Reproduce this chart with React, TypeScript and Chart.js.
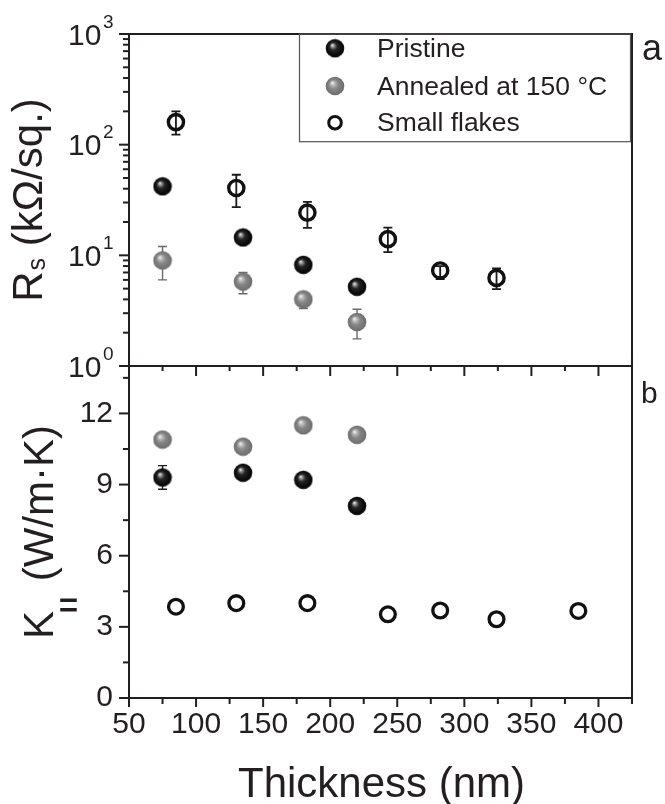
import React, { useEffect, useRef } from 'react';
import { Chart, registerables } from 'chart.js';

Chart.register(...registerables);

const FONT = '"Liberation Sans", Arial, Helvetica, sans-serif';
const INK = '#231f20';

// ---------- data ----------
const thicknessFilled = [75, 135, 180, 220];
const thicknessFlakes = [85, 130, 183, 243, 282, 324, 385];

// Sheet resistance Rs (kΩ/sq.)
const rsPristine = [42, 14.5, 8.2, 5.2];
const rsPristineLo = [37, 13.6, 7.7, 4.9];
const rsPristineHi = [47, 15.4, 8.7, 5.5];
const rsAnnealed = [9.0, 5.8, 4.0, 2.5];
const rsAnnealedLo = [6.0, 4.5, 3.3, 1.76];
const rsAnnealedHi = [12.0, 7.0, 4.4, 3.26];
const rsFlakes = [160, 40.6, 24.3, 14.0, 7.3, 6.25, null];
const rsFlakesLo = [123, 27.3, 17.7, 10.7, 6.1, 4.95, null];
const rsFlakesHi = [200, 53.5, 30.4, 17.8, 8.0, 7.6, null];

// Thermal conductivity K|| (W/m·K)
const kPristine = [9.3, 9.5, 9.2, 8.1];
const kPristineLo = [8.8, 9.35, 9.05, 7.95];
const kPristineHi = [9.8, 9.65, 9.35, 8.25];
const kAnnealed = [10.9, 10.6, 11.5, 11.1];
const kAnnealedLo = [10.8, 10.5, 11.4, 11.0];
const kAnnealedHi = [11.0, 10.7, 11.6, 11.2];
const kFlakes = [3.85, 4.0, 4.0, 3.53, 3.69, 3.32, 3.67];

// ---------- ticks ----------
const xMajorTicks = [50, 100, 150, 200, 250, 300, 350, 400];
const xMinorTicks = [75, 125, 175, 225, 275, 325, 375, 425];
const rsMajorTicks = [1, 10, 100, 1000];
const rsMinorTicks = [2, 3, 4, 5, 6, 7, 8, 9, 20, 30, 40, 50, 60, 70, 80, 90, 200, 300, 400, 500, 600, 700, 800, 900];
const kMajorTicks = [0, 3, 6, 9, 12];
const kMinorTicks = [1.5, 4.5, 7.5, 10.5, 13.5];

const legendLabels = ['Pristine', 'Annealed at 150 \u00B0C', 'Small flakes'];

function makeSphere(kind: 'dark' | 'grey'): HTMLCanvasElement {
  const c = document.createElement('canvas');
  c.width = 20;
  c.height = 20;
  const g = c.getContext('2d')!;
  const r = 9.3;
  const grad = g.createRadialGradient(7.2, 6.8, 0.2, 10, 10, r);
  if (kind === 'dark') {
    grad.addColorStop(0, '#f2f2f2');
    grad.addColorStop(0.15, '#959595');
    grad.addColorStop(0.4, '#262626');
    grad.addColorStop(0.85, '#080808');
    grad.addColorStop(1, '#181818');
  } else {
    grad.addColorStop(0, '#f4f4f4');
    grad.addColorStop(0.2, '#bcbcbc');
    grad.addColorStop(0.5, '#868686');
    grad.addColorStop(1, '#6c6c6c');
  }
  g.fillStyle = grad;
  g.beginPath();
  g.arc(10, 10, r, 0, Math.PI * 2);
  g.fill();
  return c;
}

function pts(xs: number[], ys: (number | null)[]) {
  const out: { x: number; y: number }[] = [];
  xs.forEach((x, i) => {
    const y = ys[i];
    if (y !== null && y !== undefined) out.push({ x, y });
  });
  return out;
}

function drawRotated(
  ctx: CanvasRenderingContext2D,
  baseX: number,
  centerY: number,
  parts: { text: string; font: string; dy: number; gap?: number; spacing?: string; stroke?: number }[]
) {
  ctx.save();
  ctx.translate(baseX, centerY);
  ctx.rotate(-Math.PI / 2);
  ctx.textBaseline = 'alphabetic';
  ctx.textAlign = 'left';
  ctx.fillStyle = INK;
  ctx.strokeStyle = INK;
  const widths = parts.map((p) => {
    ctx.font = p.font;
    (ctx as any).letterSpacing = p.spacing || '0px';
    return ctx.measureText(p.text).width + (p.gap || 0);
  });
  const total = widths.reduce((a, b) => a + b, 0);
  let x = -total / 2;
  parts.forEach((p, i) => {
    ctx.font = p.font;
    (ctx as any).letterSpacing = p.spacing || '0px';
    ctx.fillText(p.text, x + (p.gap || 0), p.dy);
    if (p.stroke) {
      ctx.lineWidth = p.stroke;
      ctx.strokeText(p.text, x + (p.gap || 0), p.dy);
    }
    x += widths[i];
  });
  (ctx as any).letterSpacing = '0px';
  ctx.restore();
}

export default function App() {
  const ref = useRef<HTMLCanvasElement | null>(null);

  useEffect(() => {
    if (!ref.current) return;
    const sphereDark = makeSphere('dark');
    const sphereGrey = makeSphere('grey');

    const errorSets = [
      { xs: thicknessFilled, lo: rsAnnealedLo, hi: rsAnnealedHi, axis: 'yRs', color: '#6a6a6a', width: 1.4 },
      { xs: thicknessFilled, lo: rsPristineLo, hi: rsPristineHi, axis: 'yRs', color: '#1a1a1a', width: 1.4 },
      { xs: thicknessFlakes, lo: rsFlakesLo, hi: rsFlakesHi, axis: 'yRs', color: '#1a1a1a', width: 1.8 },
      { xs: thicknessFilled, lo: kPristineLo, hi: kPristineHi, axis: 'yK', color: '#1a1a1a', width: 1.4 },
      { xs: thicknessFilled, lo: kAnnealedLo, hi: kAnnealedHi, axis: 'yK', color: '#6a6a6a', width: 1.4 },
    ];

    const decor = {
      id: 'decor',
      beforeDatasetsDraw(chart: any) {
        const ctx: CanvasRenderingContext2D = chart.ctx;
        const xs = chart.scales.x;
        ctx.save();
        errorSets.forEach((s) => {
          const ys = chart.scales[s.axis];
          ctx.strokeStyle = s.color;
          ctx.lineWidth = s.width;
          s.xs.forEach((xv, i) => {
            const lo = s.lo[i];
            const hi = s.hi[i];
            if (lo === null || hi === null) return;
            const px = xs.getPixelForValue(xv);
            const p1 = ys.getPixelForValue(lo);
            const p2 = ys.getPixelForValue(hi);
            ctx.beginPath();
            ctx.moveTo(px, p1);
            ctx.lineTo(px, p2);
            ctx.moveTo(px - 4.5, p1);
            ctx.lineTo(px + 4.5, p1);
            ctx.moveTo(px - 4.5, p2);
            ctx.lineTo(px + 4.5, p2);
            ctx.stroke();
          });
        });
        ctx.restore();
      },
      afterDraw(chart: any) {
        const ctx: CanvasRenderingContext2D = chart.ctx;
        const { left, right, top, bottom } = chart.chartArea;
        const xs = chart.scales.x;
        const yRs = chart.scales.yRs;
        const yK = chart.scales.yK;
        const mid = yRs.bottom;
        ctx.save();
        ctx.strokeStyle = INK;
        ctx.lineWidth = 2;
        ctx.lineCap = 'butt';
        // frame + divider
        ctx.strokeRect(left, top, right - left, bottom - top);
        ctx.beginPath();
        ctx.moveTo(left - 1, mid);
        ctx.lineTo(right + 1, mid);
        ctx.stroke();
        const line = (x1: number, y1: number, x2: number, y2: number) => {
          ctx.beginPath();
          ctx.moveTo(x1, y1);
          ctx.lineTo(x2, y2);
          ctx.stroke();
        };
        // left ticks
        rsMajorTicks.forEach((v) => { const y = yRs.getPixelForValue(v); line(left, y, left - 10, y); });
        rsMinorTicks.forEach((v) => { const y = yRs.getPixelForValue(v); line(left, y, left - 6, y); });
        kMajorTicks.forEach((v) => { const y = yK.getPixelForValue(v); line(left, y, left - 10, y); });
        kMinorTicks.forEach((v) => { const y = yK.getPixelForValue(v); line(left, y, left - 6, y); });
        // x ticks bottom (outward) and at divider (into lower panel)
        xMajorTicks.forEach((v) => {
          const x = xs.getPixelForValue(v);
          line(x, bottom, x, bottom + 9);
          line(x, mid, x, mid + 10);
        });
        xMinorTicks.forEach((v) => {
          const x = xs.getPixelForValue(v);
          line(x, bottom, x, bottom + 6);
          line(x, mid, x, mid + 5);
        });

        // log tick labels 10^n
        ctx.fillStyle = INK;
        ctx.textBaseline = 'alphabetic';
        rsMajorTicks.forEach((v) => {
          const y = yRs.getPixelForValue(v);
          const exp = String(Math.round(Math.log10(v)));
          ctx.font = `19px ${FONT}`;
          ctx.textAlign = 'right';
          const ew = ctx.measureText(exp).width;
          ctx.fillText(exp, 113.5, y - 6.5);
          ctx.font = `30px ${FONT}`;
          ctx.fillText('10', 113.5 - ew - 1.5, y + 10.7);
        });

        // axis titles
        drawRotated(ctx, 42, (yRs.top + yRs.bottom) / 2, [
          { text: 'R', font: `42px ${FONT}`, dy: 0 },
          { text: 's', font: `25px ${FONT}`, dy: 3, gap: 1 },
          { text: ' (k\u03A9/sq.)', font: `42px ${FONT}`, dy: 0 },
        ]);
        drawRotated(ctx, 53, (yK.top + yK.bottom) / 2, [
          { text: 'K', font: `42px ${FONT}`, dy: 0 },
          { text: '||', font: `bold 16px ${FONT}`, dy: 20, gap: -1, spacing: '5px', stroke: 1.6 },
          { text: ' (W/m\u00B7K)', font: `42px ${FONT}`, dy: 0 },
        ]);
        ctx.font = `42px ${FONT}`;
        ctx.textAlign = 'center';
        ctx.textBaseline = 'alphabetic';
        ctx.fillText('Thickness (nm)', (left + right) / 2 + 1, 797);

        // panel letters
        ctx.textAlign = 'left';
        ctx.font = `36px ${FONT}`;
        ctx.fillText('a', 642, 60);
        ctx.font = `30px ${FONT}`;
        ctx.fillText('b', 641, 403);

        // legend
        ctx.strokeStyle = '#555';
        ctx.lineWidth = 1.2;
        ctx.strokeRect(299.5, top, right - 299.5 - 1.5, 141.7 - top);
        const rowsY = [48.3, 86, 122.7];
        const baseY = [56.7, 95, 130.7];
        ctx.drawImage(sphereDark, 335 - 10, rowsY[0] - 10);
        ctx.drawImage(sphereGrey, 335 - 10, rowsY[1] - 10);
        ctx.beginPath();
        ctx.strokeStyle = '#111';
        ctx.lineWidth = 3;
        ctx.arc(335, rowsY[2], 6.3, 0, Math.PI * 2);
        ctx.stroke();
        ctx.fillStyle = INK;
        ctx.font = `26.5px ${FONT}`;
        legendLabels.forEach((t, i) => ctx.fillText(t, 377, baseY[i]));
        ctx.restore();
      },
    };

    const chart = new Chart(ref.current, {
      type: 'scatter',
      data: {
        datasets: [
          { label: legendLabels[0], data: pts(thicknessFilled, rsPristine), yAxisID: 'yRs', pointStyle: sphereDark as any, pointRadius: 9 },
          { label: legendLabels[1], data: pts(thicknessFilled, rsAnnealed), yAxisID: 'yRs', pointStyle: sphereGrey as any, pointRadius: 9 },
          { label: legendLabels[2], data: pts(thicknessFlakes, rsFlakes), yAxisID: 'yRs', pointStyle: 'circle', pointRadius: 7.6, borderWidth: 3.4, borderColor: '#111', backgroundColor: 'rgba(255,255,255,0)' },
          { label: legendLabels[0] + ' K', data: pts(thicknessFilled, kPristine), yAxisID: 'yK', pointStyle: sphereDark as any, pointRadius: 9 },
          { label: legendLabels[1] + ' K', data: pts(thicknessFilled, kAnnealed), yAxisID: 'yK', pointStyle: sphereGrey as any, pointRadius: 9 },
          { label: legendLabels[2] + ' K', data: pts(thicknessFlakes, kFlakes), yAxisID: 'yK', pointStyle: 'circle', pointRadius: 7.4, borderWidth: 3.3, borderColor: '#111', backgroundColor: 'rgba(255,255,255,0)' },
        ] as any,
      },
      options: {
        animation: false,
        responsive: false,
        events: [],
        layout: { padding: { left: 0, right: 33, top: 26, bottom: 0 } },
        plugins: { legend: { display: false }, tooltip: { enabled: false } },
        scales: {
          x: {
            type: 'linear',
            position: 'bottom',
            min: 50,
            max: 425,
            grid: { display: false, drawTicks: false },
            border: { display: false },
            afterBuildTicks: (s: any) => { s.ticks = xMajorTicks.map((v) => ({ value: v })); },
            afterFit: (s: any) => { s.height = 106; },
            ticks: { font: { family: FONT, size: 30 }, color: INK, padding: 9, autoSkip: false, maxRotation: 0 },
          },
          yK: {
            type: 'linear',
            position: 'left',
            stack: 'panels',
            stackWeight: 1,
            min: 0,
            max: 14,
            grid: { display: false, drawTicks: false },
            border: { display: false },
            afterBuildTicks: (s: any) => { s.ticks = kMajorTicks.map((v) => ({ value: v })); },
            afterFit: (s: any) => { s.width = 129; },
            ticks: { font: { family: FONT, size: 30 }, color: INK, padding: 16, autoSkip: false },
          },
          yRs: {
            type: 'logarithmic',
            position: 'left',
            stack: 'panels',
            stackWeight: 1,
            min: 1,
            max: 1000,
            grid: { display: false, drawTicks: false },
            border: { display: false },
            afterBuildTicks: (s: any) => { s.ticks = rsMajorTicks.map((v) => ({ value: v })); },
            afterFit: (s: any) => { s.width = 129; },
            ticks: { display: false },
          },
        } as any,
      },
      plugins: [decor],
    });
    return () => chart.destroy();
  }, []);

  return (
    <div style={{ position: 'absolute', left: 0, top: 0, width: 665, height: 804, background: '#fff' }}>
      <canvas ref={ref} width={665} height={804} style={{ display: 'block' }} />
    </div>
  );
}
